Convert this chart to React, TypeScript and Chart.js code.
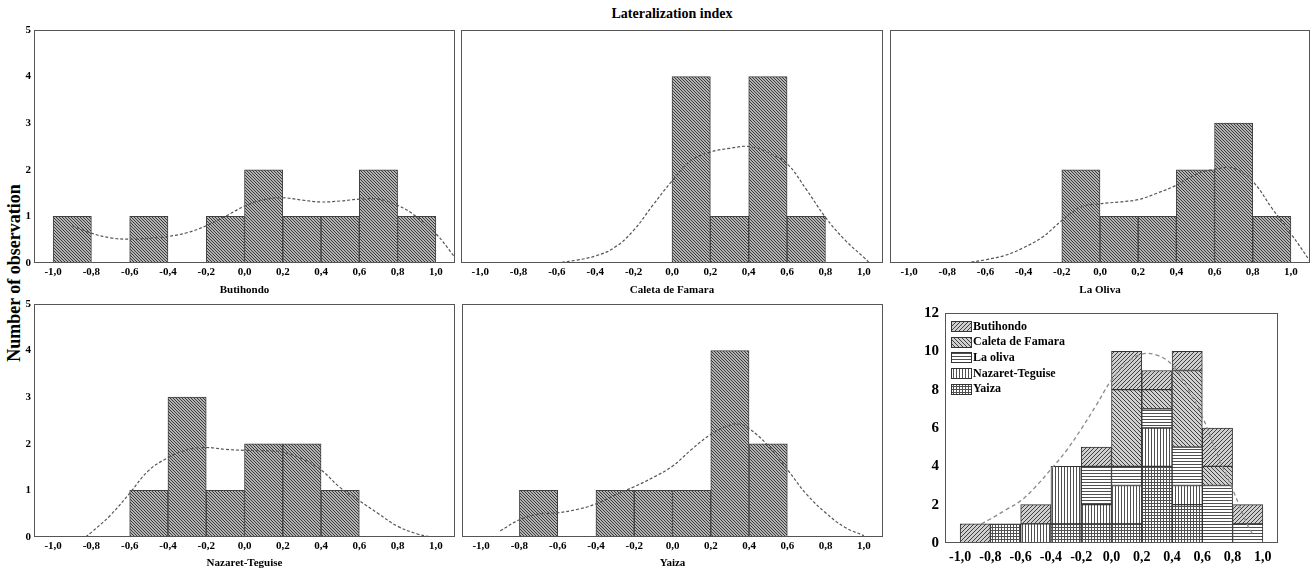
import React, { useEffect, useRef } from 'react';
import { Chart, registerables } from 'chart.js';

Chart.register(...registerables);

// ---------------- DATA ----------------
const BIN_CENTERS = [-0.9, -0.7, -0.5, -0.3, -0.1, 0.1, 0.3, 0.5, 0.7, 0.9];
const X_TICKS = [-1.0, -0.8, -0.6, -0.4, -0.2, 0.0, 0.2, 0.4, 0.6, 0.8, 1.0];
const Y_TICKS_SMALL = [0, 1, 2, 3, 4, 5];
const Y_TICKS_TOTAL = [0, 2, 4, 6, 8, 10, 12];

const BUTIHONDO = [1, 0, 1, 0, 1, 2, 1, 1, 2, 1];
const CALETA = [0, 0, 0, 0, 0, 4, 1, 4, 1, 0];
const LA_OLIVA = [0, 0, 0, 0, 2, 1, 1, 2, 3, 1];
const NAZARET = [0, 0, 1, 3, 1, 2, 2, 1, 0, 0];
const YAIZA = [0, 1, 0, 1, 1, 1, 4, 2, 0, 0];

// density curves: [x, y]
const BUTIHONDO_CURVE = [
  [-0.9, 0.8], [-0.8, 0.64], [-0.7, 0.54], [-0.6, 0.51], [-0.5, 0.53], [-0.4, 0.57],
  [-0.3, 0.65], [-0.2, 0.8], [-0.1, 1.0], [0.0, 1.22], [0.1, 1.36], [0.2, 1.4],
  [0.3, 1.35], [0.4, 1.31], [0.5, 1.33], [0.6, 1.37], [0.7, 1.37], [0.8, 1.24],
  [0.9, 0.99], [1.0, 0.63], [1.1, 0.12],
];
const CALETA_CURVE = [
  [-0.6, 0.0], [-0.5, 0.06], [-0.4, 0.15], [-0.3, 0.33], [-0.2, 0.7], [-0.1, 1.24],
  [0.0, 1.76], [0.1, 2.2], [0.2, 2.38], [0.3, 2.46], [0.4, 2.5], [0.5, 2.37],
  [0.6, 2.13], [0.7, 1.58], [0.8, 0.98], [0.9, 0.5], [1.0, 0.12], [1.03, 0.0],
];
const LA_OLIVA_CURVE = [
  [-0.7, 0.0], [-0.6, 0.07], [-0.5, 0.16], [-0.4, 0.33], [-0.3, 0.56], [-0.2, 0.91],
  [-0.1, 1.2], [0.0, 1.27], [0.1, 1.31], [0.2, 1.36], [0.3, 1.5], [0.4, 1.67],
  [0.5, 1.9], [0.6, 2.01], [0.7, 2.03], [0.8, 1.75], [0.9, 1.18], [1.0, 0.63], [1.1, 0.04],
];
const NAZARET_CURVE = [
  [-0.83, 0.0], [-0.8, 0.1], [-0.7, 0.47], [-0.6, 0.94], [-0.5, 1.43], [-0.4, 1.7],
  [-0.3, 1.87], [-0.2, 1.92], [-0.1, 1.88], [0.0, 1.86], [0.1, 1.85], [0.2, 1.82],
  [0.3, 1.68], [0.4, 1.44], [0.5, 1.06], [0.6, 0.78], [0.7, 0.5], [0.8, 0.23],
  [0.9, 0.07], [0.97, 0.0],
];
const YAIZA_CURVE = [
  [-0.9, 0.13], [-0.8, 0.37], [-0.7, 0.49], [-0.6, 0.52], [-0.5, 0.59], [-0.4, 0.71],
  [-0.3, 0.9], [-0.2, 1.08], [-0.1, 1.28], [0.0, 1.52], [0.1, 1.88], [0.2, 2.2],
  [0.3, 2.4], [0.35, 2.42], [0.4, 2.33], [0.5, 1.96], [0.6, 1.45], [0.7, 0.92],
  [0.8, 0.52], [0.9, 0.21], [1.0, 0.03],
];
const TOTAL_CURVE = [
  [-0.86, 1.0], [-0.8, 1.25], [-0.7, 1.72], [-0.6, 2.2], [-0.5, 2.95], [-0.4, 3.85],
  [-0.3, 4.8], [-0.2, 5.95], [-0.1, 7.2], [0.0, 8.5], [0.1, 9.4], [0.2, 9.85],
  [0.3, 9.8], [0.4, 9.3], [0.5, 8.1], [0.6, 6.6], [0.7, 4.6], [0.8, 2.8],
  [0.9, 0.92], [0.93, 0.5],
];

// ---------------- HELPERS ----------------
const FONT = '"Liberation Serif", "Times New Roman", serif';
Chart.defaults.font.family = FONT;
Chart.defaults.color = '#000';

type PatternKind = 'single' | 'fwd' | 'back' | 'horiz' | 'vert' | 'grid';

function makePattern(kind: PatternKind): CanvasPattern | string {
  const c = document.createElement('canvas');
  const size = kind === 'single' ? 3 : kind === 'fwd' || kind === 'back' ? 4 : 3;
  c.width = size;
  c.height = size;
  const g = c.getContext('2d');
  if (!g) return '#aaa';
  if (kind === 'single' || kind === 'fwd' || kind === 'back') {
    g.fillStyle = kind === 'single' ? '#b4b4b4' : '#cfcfcf';
    g.fillRect(0, 0, size, size);
    g.fillStyle = kind === 'single' ? '#3a3a3a' : '#404040';
    for (let i = 0; i < size; i++) {
      if (kind === 'fwd') g.fillRect(i, size - 1 - i, 1, 1);
      else g.fillRect(i, i, 1, 1);
    }
  } else {
    g.fillStyle = '#ffffff';
    g.fillRect(0, 0, size, size);
    g.fillStyle = '#505050';
    if (kind === 'horiz' || kind === 'grid') g.fillRect(0, 0, size, 1);
    if (kind === 'vert' || kind === 'grid') g.fillRect(0, 0, 1, size);
  }
  const p = g.createPattern(c, 'repeat');
  return p || '#aaa';
}

const framePlugin = {
  id: 'frame',
  afterDraw(chart: any) {
    const { ctx, chartArea } = chart;
    ctx.save();
    ctx.strokeStyle = '#555';
    ctx.lineWidth = 1;
    const l = Math.round(chartArea.left) + 0.5;
    const t = Math.round(chartArea.top) + 0.5;
    const r = Math.round(chartArea.right) - 0.5;
    const b = Math.round(chartArea.bottom) - 0.5;
    ctx.strokeRect(l, t, r - l, b - t);
    ctx.restore();
  },
};

const innerLegendPlugin = {
  id: 'innerLegend',
  afterDraw(chart: any) {
    const { ctx, chartArea } = chart;
    const items = chart.data.datasets.filter((d: any) => d.type !== 'line').slice().reverse();
    ctx.save();
    items.forEach((d: any, i: number) => {
      const cy = chartArea.top + 13.5 + i * 15.7;
      const x = Math.round(chartArea.left + 6);
      const y = Math.round(cy - 5.5);
      ctx.fillStyle = d.backgroundColor;
      ctx.fillRect(x, y, 21, 11);
      ctx.strokeStyle = '#333';
      ctx.lineWidth = 1;
      ctx.strokeRect(x + 0.5, y + 0.5, 20, 10);
      ctx.fillStyle = '#000';
      ctx.font = `bold 12px ${FONT}`;
      ctx.textBaseline = 'middle';
      ctx.textAlign = 'left';
      ctx.fillText(d.label, x + 22, cy);
    });
    ctx.restore();
  },
};

const fmtX = (v: any) => Number(v).toFixed(1).replace('.', ',');

function toBars(counts: number[]) {
  return BIN_CENTERS.map((c, i) => ({ x: c, y: counts[i] ? counts[i] : null }));
}
function toPts(curve: number[][]) {
  return curve.map(([x, y]) => ({ x, y }));
}

interface PanelSpec {
  left: number;
  top: number;
  width: number;
  height: number;
  build: () => any;
}

function ChartBox({ spec }: { spec: PanelSpec }) {
  const ref = useRef<HTMLCanvasElement | null>(null);
  useEffect(() => {
    if (!ref.current) return;
    const chart = new Chart(ref.current, spec.build());
    return () => chart.destroy();
  }, []);
  return (
    <div style={{ position: 'absolute', left: spec.left, top: spec.top, width: spec.width, height: spec.height }}>
      <canvas ref={ref} width={spec.width} height={spec.height} style={{ width: spec.width, height: spec.height, display: 'block' }} />
    </div>
  );
}

const fitX = (h: number) => (s: any) => {
  s.height = h;
  s.paddingLeft = 0;
  s.paddingRight = 0;
  s.paddingTop = 0;
  s.paddingBottom = 0;
};
const fitY = (w: number) => (s: any) => {
  s.width = w;
  s.paddingLeft = 0;
  s.paddingRight = 0;
  s.paddingTop = 0;
  s.paddingBottom = 0;
};

function singleConfig(counts: number[], curve: number[][], title: string, showY: boolean, xH: number) {
  return () => ({
    type: 'bar',
    data: {
      datasets: [
        {
          type: 'line',
          data: toPts(curve),
          borderColor: '#555',
          borderWidth: 1.2,
          borderDash: [3, 2],
          pointRadius: 0,
          tension: 0.4,
          fill: false,
          order: 0,
        },
        {
          type: 'bar',
          data: toBars(counts),
          backgroundColor: makePattern('single'),
          borderColor: '#404040',
          borderWidth: 1,
          borderSkipped: false,
          barPercentage: 1,
          categoryPercentage: 1,
          order: 1,
        },
      ],
    },
    options: {
      responsive: false,
      animation: false,
      devicePixelRatio: 1,
      layout: { padding: { top: 8, right: 1, left: showY ? 0 : 1, bottom: 0 } },
      plugins: { legend: { display: false }, tooltip: { enabled: false } },
      scales: {
        x: {
          type: 'linear',
          min: -1.1,
          max: 1.1,
          offset: false,
          grid: { display: false, drawTicks: false, offset: false },
          border: { display: false },
          afterBuildTicks: (s: any) => { s.ticks = X_TICKS.map((v) => ({ value: v })); },
          afterFit: fitX(xH),
          ticks: {
            autoSkip: false,
            maxRotation: 0,
            padding: 3,
            font: { size: 11, weight: 'bold' },
            callback: fmtX,
          },
          title: { display: true, text: title, font: { size: 11, weight: 'bold' }, padding: 0 },
        },
        y: {
          display: showY,
          min: 0,
          max: 5,
          grid: { display: false, drawTicks: false },
          border: { display: false },
          afterBuildTicks: (s: any) => { s.ticks = Y_TICKS_SMALL.map((v) => ({ value: v })); },
          afterFit: fitY(showY ? 20 : 0),
          ticks: { padding: 3, font: { size: 11, weight: 'bold' } },
        },
      },
    },
    plugins: [framePlugin],
  });
}

function totalConfig() {
  const mk = (label: string, counts: number[], kind: PatternKind) => ({
    type: 'bar',
    label,
    data: toBars(counts),
    backgroundColor: makePattern(kind),
    borderColor: '#333',
    borderWidth: 1,
    borderSkipped: false,
    barPercentage: 1,
    categoryPercentage: 1,
    order: 1,
  });
  return {
    type: 'bar',
    data: {
      datasets: [
        {
          type: 'line',
          label: 'curve',
          data: toPts(TOTAL_CURVE),
          borderColor: '#8a8a8a',
          borderWidth: 1.3,
          borderDash: [4, 3],
          pointRadius: 0,
          tension: 0.4,
          fill: false,
          order: 0,
          stack: 'curve',
        },
        mk('Yaiza', YAIZA, 'grid'),
        mk('Nazaret-Teguise', NAZARET, 'vert'),
        mk('La oliva', LA_OLIVA, 'horiz'),
        mk('Caleta de Famara', CALETA, 'back'),
        mk('Butihondo', BUTIHONDO, 'fwd'),
      ],
    },
    options: {
      responsive: false,
      animation: false,
      devicePixelRatio: 1,
      layout: { padding: { top: 8, right: 2, left: 0, bottom: 0 } },
      plugins: { legend: { display: false }, tooltip: { enabled: false } },
      scales: {
        x: {
          type: 'linear',
          min: -1.1,
          max: 1.1,
          offset: false,
          stacked: true,
          grid: { display: false, drawTicks: false, offset: false },
          border: { display: false },
          afterBuildTicks: (s: any) => { s.ticks = X_TICKS.map((v) => ({ value: v })); },
          afterFit: fitX(26),
          ticks: { autoSkip: false, maxRotation: 0, padding: 6, font: { size: 14, weight: 'bold' }, callback: fmtX },
        },
        y: {
          min: 0,
          max: 12,
          stacked: true,
          grid: { display: false, drawTicks: false },
          border: { display: false },
          afterBuildTicks: (s: any) => { s.ticks = Y_TICKS_TOTAL.map((v) => ({ value: v })); },
          afterFit: fitY(40),
          ticks: { padding: 6, font: { size: 15, weight: 'bold' } },
        },
      },
    },
    plugins: [framePlugin, innerLegendPlugin],
  };
}

const PANELS: PanelSpec[] = [
  { left: 14, top: 22, width: 442, height: 275, build: singleConfig(BUTIHONDO, BUTIHONDO_CURVE, 'Butihondo', true, 34) },
  { left: 460, top: 22, width: 424, height: 275, build: singleConfig(CALETA, CALETA_CURVE, 'Caleta de Famara', false, 34) },
  { left: 889, top: 22, width: 422, height: 275, build: singleConfig(LA_OLIVA, LA_OLIVA_CURVE, 'La Oliva', false, 34) },
  { left: 14, top: 296, width: 442, height: 274, build: singleConfig(NAZARET, NAZARET_CURVE, 'Nazaret-Teguise', true, 33) },
  { left: 461, top: 296, width: 423, height: 274, build: singleConfig(YAIZA, YAIZA_CURVE, 'Yaiza', false, 33) },
  { left: 905, top: 305, width: 375, height: 264, build: totalConfig },
];

export default function App() {
  return (
    <div style={{ position: 'fixed', left: 0, top: 0, width: 1311, height: 571, background: '#fff', overflow: 'hidden', fontFamily: FONT }}>
      <div style={{ position: 'absolute', left: 472, width: 400, top: 6, textAlign: 'center', fontWeight: 'bold', fontSize: 14, lineHeight: '16px' }}>
        Lateralization index
      </div>
      <div
        style={{
          position: 'absolute',
          left: 14,
          top: 273,
          transform: 'translate(-50%, -50%) rotate(-90deg)',
          whiteSpace: 'nowrap',
          fontWeight: 'bold',
          fontSize: 18,
          lineHeight: '20px',
        }}
      >
        Number of observation
      </div>
      {PANELS.map((p, i) => (
        <ChartBox key={i} spec={p} />
      ))}
    </div>
  );
}
